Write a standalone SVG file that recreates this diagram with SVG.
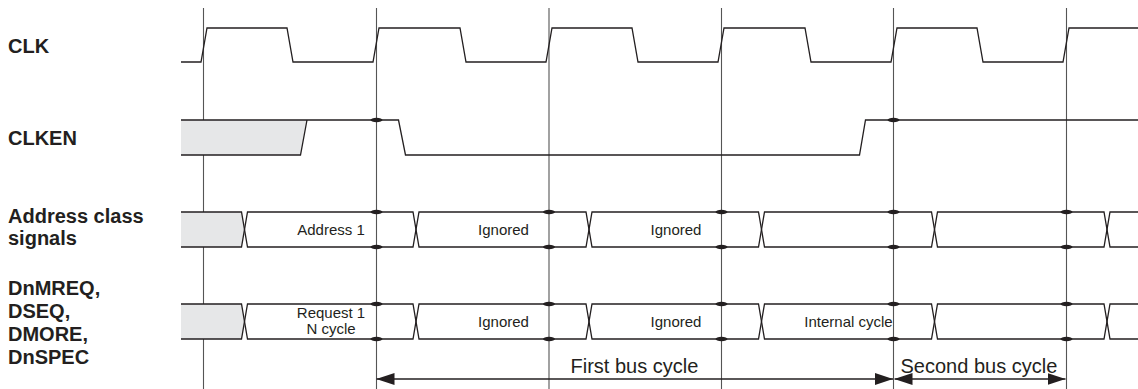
<svg xmlns="http://www.w3.org/2000/svg" width="1138" height="389" viewBox="0 0 1138 389">
<style>
.lbl{font-family:"Liberation Sans",Arial,sans-serif;font-size:20px;font-weight:bold;fill:#231f20}
.t{font-family:"Liberation Sans",Arial,sans-serif;font-size:15px;fill:#231f20;text-anchor:middle}
.big{font-family:"Liberation Sans",Arial,sans-serif;font-size:20px;fill:#231f20}
.w{fill:none;stroke:#231f20;stroke-width:1.3;stroke-linejoin:miter}
.g{fill:#e6e7e8;stroke:none}
.v{stroke:#555;stroke-width:1.1}
.b{fill:#231f20}
.a{stroke:#231f20;stroke-width:1.3;fill:none}
</style>
<defs>
<marker id="ah" markerUnits="userSpaceOnUse" markerWidth="18" markerHeight="12" refX="18" refY="6" orient="auto-start-reverse">
<path d="M0,0 L18,6 L0,12 z" fill="#231f20"/>
</marker>
<ellipse id="bump" cx="0" cy="0" rx="6" ry="2.2" class="b"/>
</defs>
<rect width="1138" height="389" fill="#fff"/>

<g id="gridlines">
<line class="v" x1="203.5" y1="8" x2="203.5" y2="389"/>
<line class="v" x1="376.5" y1="8" x2="376.5" y2="389"/>
<line class="v" x1="549" y1="8" x2="549" y2="389"/>
<line class="v" x1="721.5" y1="8" x2="721.5" y2="389"/>
<line class="v" x1="893.5" y1="8" x2="893.5" y2="389"/>
<line class="v" x1="1066.5" y1="8" x2="1066.5" y2="389"/>
</g>

<g id="clk">
<text class="lbl" x="8" y="53">CLK</text>
<path class="w" d="M181,62 L201,62 L207,28 L287,28 L293,62 L373,62 L379,28 L460,28 L466,62 L546,62 L552,28 L632,28 L638,62 L718,62 L724,28 L805,28 L811,62 L891,62 L897,28 L977,28 L983,62 L1063,62 L1069,28 L1138,28"/>
</g>

<g id="clken">
<text class="lbl" x="8" y="145">CLKEN</text>
<polygon class="g" points="181,120 307,120 300.5,155 181,155"/>
<path class="w" d="M181,120 L398.5,120 L405.5,155 L859.5,155 L865.5,120 L1138,120"/>
<path class="w" d="M181,155 L300.5,155 L307,120"/>
<use href="#bump" x="376.5" y="120"/>
<use href="#bump" x="893.5" y="120"/>
</g>

<g id="address">
<text class="lbl" x="8" y="223">Address class</text>
<text class="lbl" x="8" y="244.5">signals</text>
<polygon class="g" points="181,212 241.5,212 244.5,229.5 241.5,247 181,247"/>
<path class="w" d="M181,212 L241.5,212 L247.5,247 L413,247 L419,212 L586,212 L592,247 L758.5,247 L764.5,212 L931.5,212 L937.5,247 L1104,247 L1110,212 L1138,212"/>
<path class="w" d="M181,247 L241.5,247 L247.5,212 L413,212 L419,247 L586,247 L592,212 L758.5,212 L764.5,247 L931.5,247 L937.5,212 L1104,212 L1110,247 L1138,247"/>
<use href="#bump" x="376.5" y="212"/><use href="#bump" x="376.5" y="247"/>
<use href="#bump" x="549" y="212"/><use href="#bump" x="549" y="247"/>
<use href="#bump" x="721.5" y="212"/><use href="#bump" x="721.5" y="247"/>
<use href="#bump" x="893.5" y="212"/><use href="#bump" x="893.5" y="247"/>
<use href="#bump" x="1066.5" y="212"/><use href="#bump" x="1066.5" y="247"/>
<text class="t" x="331" y="234.5">Address 1</text>
<text class="t" x="503.5" y="234.5">Ignored</text>
<text class="t" x="676" y="234.5">Ignored</text>
</g>

<g id="request">
<text class="lbl" x="8" y="295">DnMREQ,</text>
<text class="lbl" x="8" y="318">DSEQ,</text>
<text class="lbl" x="8" y="341">DMORE,</text>
<text class="lbl" x="8" y="363.5">DnSPEC</text>
<polygon class="g" points="181,304 241.5,304 244.5,321.5 241.5,339 181,339"/>
<path class="w" d="M181,304 L241.5,304 L247.5,339 L413,339 L419,304 L586,304 L592,339 L758.5,339 L764.5,304 L931.5,304 L937.5,339 L1104,339 L1110,304 L1138,304"/>
<path class="w" d="M181,339 L241.5,339 L247.5,304 L413,304 L419,339 L586,339 L592,304 L758.5,304 L764.5,339 L931.5,339 L937.5,304 L1104,304 L1110,339 L1138,339"/>
<use href="#bump" x="376.5" y="304"/><use href="#bump" x="376.5" y="339"/>
<use href="#bump" x="549" y="304"/><use href="#bump" x="549" y="339"/>
<use href="#bump" x="721.5" y="304"/><use href="#bump" x="721.5" y="339"/>
<use href="#bump" x="893.5" y="304"/><use href="#bump" x="893.5" y="339"/>
<use href="#bump" x="1066.5" y="304"/><use href="#bump" x="1066.5" y="339"/>
<text class="t" x="331" y="317.5">Request 1</text>
<text class="t" x="331" y="333.5">N cycle</text>
<text class="t" x="503.5" y="327">Ignored</text>
<text class="t" x="676" y="327">Ignored</text>
<text class="t" x="848.5" y="327">Internal cycle</text>
</g>

<g id="connectors">
<line class="a" x1="376.5" y1="379" x2="893" y2="379" marker-start="url(#ah)" marker-end="url(#ah)"/>
<line class="a" x1="894.5" y1="379" x2="1065.5" y2="379" marker-start="url(#ah)" marker-end="url(#ah)"/>
<text class="big" x="570.5" y="373">First bus cycle</text>
<text class="big" x="900.5" y="373">Second bus cycle</text>
</g>
</svg>
